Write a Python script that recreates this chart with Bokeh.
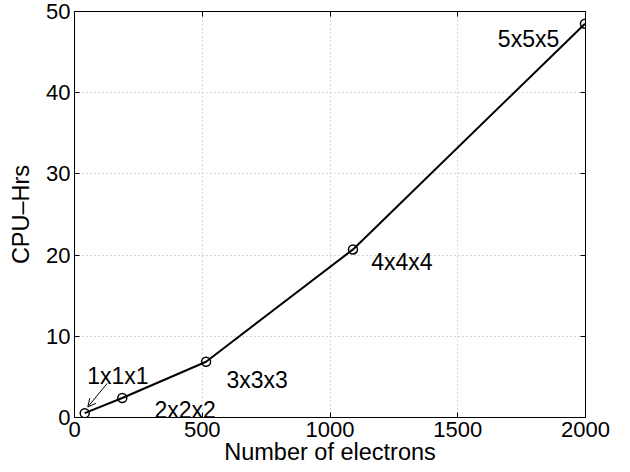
from bokeh.plotting import figure
from bokeh.models import (LinearAxis, Range1d, FixedTicker, Arrow, OpenHead,
                          ColumnDataSource, GlobalInlineStyleSheet)
from bokeh.core.properties import value
from bokeh.embed import file_html
from bokeh.resources import INLINE

# data
electrons = [40, 187, 515, 1090, 1998]
cpu_hrs = [0.53, 2.4, 6.87, 20.7, 48.5]
labels = ["1x1x1", "2x2x2", "3x3x3", "4x4x4", "5x5x5"]
label_x = [50, 313, 595, 1161, 1657]
label_y = [4.3, 0.1, 3.7, 18.3, 45.8]
x_ticks = [0, 500, 1000, 1500, 2000]
y_ticks = [0, 10, 20, 30, 40, 50]

FONT = "Liberation Sans"

p = figure(width=630, height=472, output_backend="svg", toolbar_location=None,
           x_range=Range1d(0, 2000), y_range=Range1d(0, 50),
           min_border_left=74, min_border_right=45, min_border_top=11, min_border_bottom=55,
           x_axis_label="Number of electrons", y_axis_label="CPU\u2013Hrs")
p.stylesheets = [GlobalInlineStyleSheet(css="html, body { margin: 0 !important; padding: 0 !important; overflow: hidden; }")]
p.outline_line_color = "black"
p.outline_line_width = 1
p.background_fill_color = "white"
p.border_fill_color = "white"

for ax in (p.xaxis[0], p.yaxis[0]):
    ax.major_tick_in = 5
    ax.major_tick_out = 0
    ax.minor_tick_line_color = None
    ax.axis_line_color = "black"
    ax.major_tick_line_color = "black"
    ax.major_label_text_font = FONT
    ax.major_label_text_font_size = "22px"
    ax.major_label_text_color = "black"
    ax.axis_label_text_font = FONT
    ax.axis_label_text_font_size = "23.5px"
    ax.axis_label_text_font_style = "normal"
    ax.axis_label_text_color = "black"

p.xaxis[0].ticker = FixedTicker(ticks=x_ticks)
p.yaxis[0].ticker = FixedTicker(ticks=y_ticks)
p.xaxis[0].major_label_standoff = 4
p.xaxis[0].axis_label_standoff = -1
p.yaxis[0].major_label_standoff = 4
p.yaxis[0].axis_label_standoff = 9

# mirrored ticks on top and right
top = LinearAxis(ticker=FixedTicker(ticks=x_ticks))
right = LinearAxis(ticker=FixedTicker(ticks=y_ticks))
for ax in (top, right):
    ax.major_tick_in = 5
    ax.major_tick_out = 0
    ax.minor_tick_line_color = None
    ax.major_label_text_color = None
    ax.major_label_text_font_size = "1px"
    ax.major_label_standoff = 0
    ax.axis_line_color = "black"
    ax.major_tick_line_color = "black"
p.add_layout(top, "above")
p.add_layout(right, "right")

p.xgrid.ticker = FixedTicker(ticks=x_ticks)
p.ygrid.ticker = FixedTicker(ticks=y_ticks)
for g in (p.xgrid[0], p.ygrid[0]):
    g.grid_line_color = "#b0b0b0"
    g.grid_line_dash = "1 3"
    g.grid_line_width = 1

src = ColumnDataSource(dict(x=electrons, y=cpu_hrs))
p.line("x", "y", source=src, line_color="black", line_width=2)
p.scatter("x", "y", source=src, marker="circle", size=9, fill_color=None,
          line_color="black", line_width=1.5)

lsrc = ColumnDataSource(dict(x=label_x, y=label_y, t=labels))
p.text("x", "y", text="t", source=lsrc, text_font=value(FONT), text_font_size="23px",
       text_align="left", text_baseline="alphabetic", text_color="black", y_offset=-7)

p.add_layout(Arrow(end=OpenHead(size=8, line_width=1, line_color="black"),
                   x_start=128, y_start=4.2, x_end=52, y_end=1.3,
                   line_width=1, line_color="black"))

open("out.html", "w").write(file_html(p, INLINE))
